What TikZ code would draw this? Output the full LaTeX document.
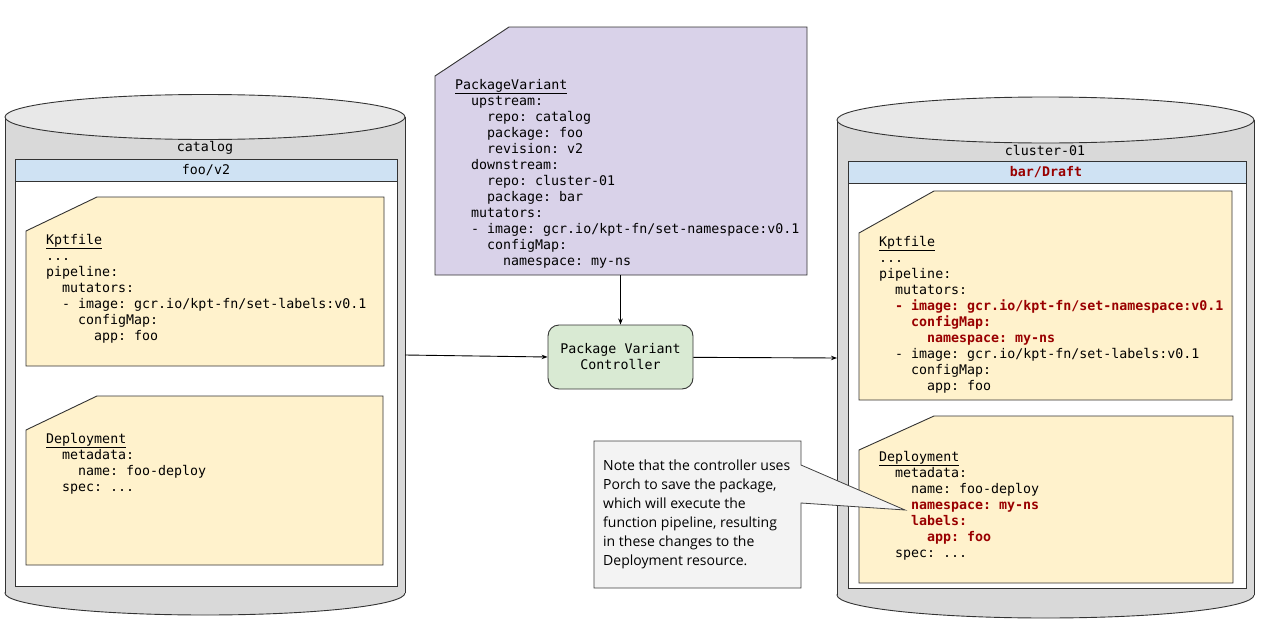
\documentclass[tikz,border=0pt]{standalone}
\usepackage{fontspec}
\setmainfont{Open Sans}
\setmonofont{DejaVu Sans Mono}
\usetikzlibrary{positioning,arrows.meta}

\definecolor{cylgray}{HTML}{D9D9D9}
\definecolor{cyltop}{HTML}{E8E8E8}
\definecolor{hdrblue}{HTML}{CFE2F3}
\definecolor{noteyellow}{HTML}{FFF2CC}
\definecolor{pvpurple}{HTML}{D9D2E9}
\definecolor{ctrlgreen}{HTML}{D9EAD3}
\definecolor{chgred}{HTML}{990000}
\definecolor{calloutgray}{HTML}{F3F3F3}

\newcommand{\indt}{\hspace*{1.2em}}
\newcommand{\chg}[1]{\textcolor{chgred}{\bfseries #1}}

\begin{document}
\begin{tikzpicture}[x=1pt,y=-1pt]
            \tikzset{
                outline/.style={draw=black!80, line width=0.9pt},
                code/.style={font=\fontsize{13.3}{16}\selectfont\ttfamily, align=left, anchor=north west, inner sep=0pt},
                lbl/.style={font=\fontsize{13.3}{16}\selectfont\ttfamily, inner sep=0pt},
                arr/.style={line width=0.9pt, -{Stealth[length=6pt,width=4.5pt]}},
                note/.style={outline, fill=noteyellow},}
            \useasboundingbox (0,0) rectangle (1262,621);

            % catalog repo
            \filldraw [outline, fill=cylgray] (205,593) ellipse [x radius=200, y radius=22];
            \fill [cylgray] (5,117) rectangle (405,593);
            \draw [outline] (5,117) -- (5,593) (405,117) -- (405,593);
            \filldraw [outline, fill=cyltop] (205,117) ellipse [x radius=200, y radius=22.5];
            \filldraw [outline, fill=white] (15,159) rectangle (397,586);
            \filldraw [outline, fill=hdrblue] (15,159) rectangle (397,181);
            \node (catalog-lbl) [lbl] at (205,148) {catalog};
            \node (foo-lbl) [lbl] at (206,170) {foo/v2};
            \coordinate (catalog-e) at (405,355);

            \draw [note] (97,197) -- (384,197) -- (384,366) -- (26,366) -- (26,231) -- cycle;
            \node (kpt-l) [code] at (46,234) {\underline{Kptfile}\\
                ...\\
                pipeline:\\
                \indt mutators:\\
                \indt - image: gcr.io/kpt-fn/set-labels:v0.1\\
                \indt\indt configMap:\\
                \indt\indt\indt app: foo};

            \draw [note] (97,396) -- (383,396) -- (383,565) -- (26,565) -- (26,430) -- cycle;
            \node (dep-l) [code] at (46,433) {\underline{Deployment}\\
                \indt metadata:\\
                \indt\indt name: foo-deploy\\
                \indt spec: ...};

            % cluster-01 repo
            \filldraw [outline, fill=cylgray] (1045.5,595) ellipse [x radius=208.5, y radius=23];
            \fill [cylgray] (837,120) rectangle (1254,595);
            \draw [outline] (837,120) -- (837,595) (1254,120) -- (1254,595);
            \filldraw [outline, fill=cyltop] (1045.5,120) ellipse [x radius=208.5, y radius=23];
            \filldraw [outline, fill=white] (848,161) rectangle (1246,588);
            \filldraw [outline, fill=hdrblue] (848,161) rectangle (1246,183);
            \node (cluster-lbl) [lbl] at (1045,151) {cluster-01};
            \node (bar-lbl) [lbl] at (1046,172) {\chg{bar/Draft}};
            \coordinate (cluster-w) at (837,358);

            \draw [note] (934,191) -- (1232,191) -- (1232,400) -- (859,400) -- (859,233) -- cycle;
            \node (kpt-r) [code] at (879,236) {\underline{Kptfile}\\
                ...\\
                pipeline:\\
                \indt mutators:\\
                \indt\chg{- image: gcr.io/kpt-fn/set-namespace:v0.1}\\
                \indt\indt\chg{configMap:}\\
                \indt\indt\indt\chg{namespace: my-ns}\\
                \indt - image: gcr.io/kpt-fn/set-labels:v0.1\\
                \indt\indt configMap:\\
                \indt\indt\indt app: foo};

            \draw [note] (934,416) -- (1233,416) -- (1233,583) -- (859,583) -- (859,450) -- cycle;
            \node (dep-r) [code] at (879,451) {\underline{Deployment}\\
                \indt metadata:\\
                \indt\indt name: foo-deploy\\
                \indt\indt\chg{namespace: my-ns}\\
                \indt\indt\chg{labels:}\\
                \indt\indt\indt\chg{app: foo}\\
                \indt spec: ...};

            % PackageVariant resource
            \draw [outline, fill=pvpurple] (509,27) -- (807,27) -- (807,275) -- (435,275) -- (435,76) -- cycle;
            \node (pv) [code] at (455,79) {\underline{PackageVariant}\\
                \indt upstream:\\
                \indt\indt repo: catalog\\
                \indt\indt package: foo\\
                \indt\indt revision: v2\\
                \indt downstream:\\
                \indt\indt repo: cluster-01\\
                \indt\indt package: bar\\
                \indt mutators:\\
                \indt - image: gcr.io/kpt-fn/set-namespace:v0.1\\
                \indt\indt configMap:\\
                \indt\indt\indt namespace: my-ns};
            \coordinate (pv-s) at (620.5,275);

            \node (ctrl) [outline, fill=ctrlgreen, rounded corners=11pt, minimum width=145pt, minimum height=64pt,
                align=center, font=\fontsize{13.3}{16}\selectfont\ttfamily] at (620.5,357) {Package Variant\\Controller};

            \draw [arr] (pv-s) -- (ctrl);
            \draw [arr] (catalog-e) -- (ctrl.west);
            \draw [arr] (ctrl) -- (cluster-w);

            % callout
            \filldraw [draw=black!75, line width=0.8pt, fill=calloutgray] (594,441) -- (801,441) -- (801,465) -- (905,510)
                -- (801,503) -- (801,588) -- (594,588) -- cycle;
            \node (remark) [anchor=north west, align=left, inner sep=0pt, font=\fontsize{14}{19}\selectfont] at (603,460)
                {Note that the controller uses\\Porch to save the package,\\which will execute the\\function pipeline, resulting\\in these changes to the\\Deployment resource.};
        \end{tikzpicture}
\end{document}
